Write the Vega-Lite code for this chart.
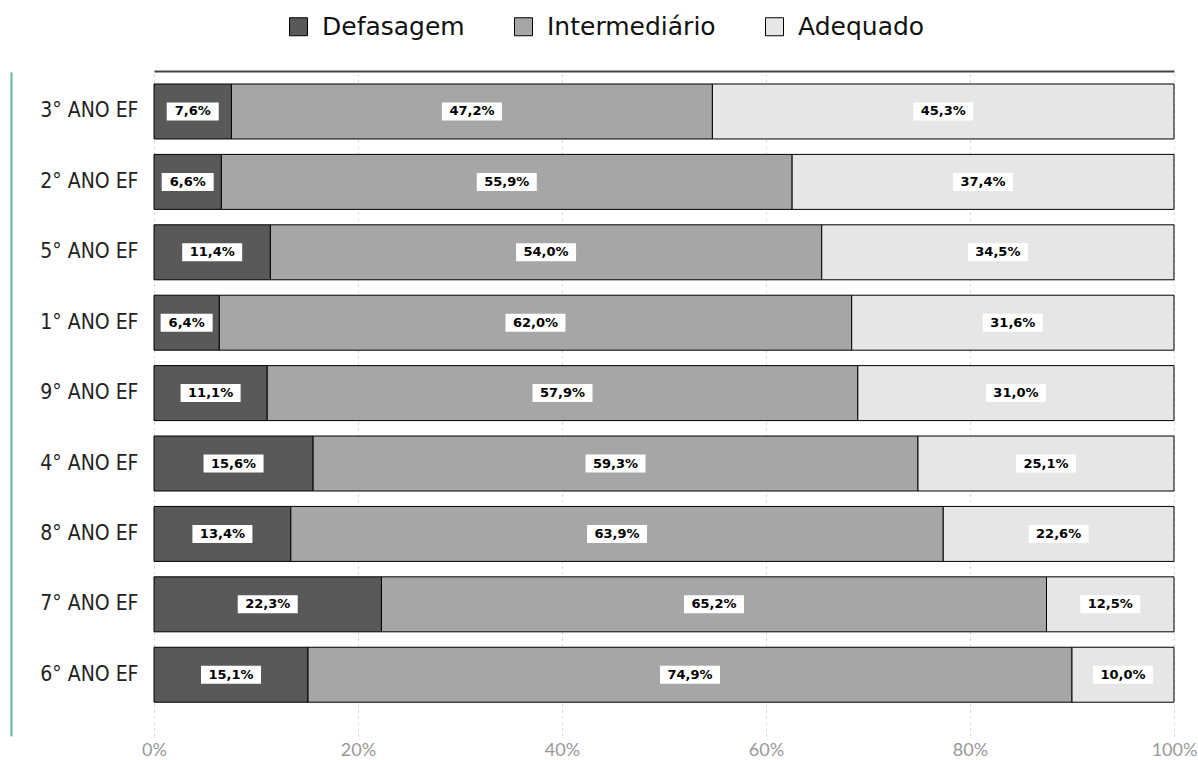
{
  "$schema": "https://vega.github.io/schema/vega-lite/v6.json",
  "autosize": {"type": "none"},
  "padding": {"left": 154, "top": 72, "right": 24, "bottom": 24},
  "width": 1020,
  "height": 664,
  "background": "white",
  "config": {"view": {"stroke": null}},
  "data": {
    "values": [
      {"ano": "3° ANO EF", "nivel": "Defasagem", "value": 7.6},
      {"ano": "3° ANO EF", "nivel": "Intermediário", "value": 47.2},
      {"ano": "3° ANO EF", "nivel": "Adequado", "value": 45.3},
      {"ano": "2° ANO EF", "nivel": "Defasagem", "value": 6.6},
      {"ano": "2° ANO EF", "nivel": "Intermediário", "value": 55.9},
      {"ano": "2° ANO EF", "nivel": "Adequado", "value": 37.4},
      {"ano": "5° ANO EF", "nivel": "Defasagem", "value": 11.4},
      {"ano": "5° ANO EF", "nivel": "Intermediário", "value": 54.0},
      {"ano": "5° ANO EF", "nivel": "Adequado", "value": 34.5},
      {"ano": "1° ANO EF", "nivel": "Defasagem", "value": 6.4},
      {"ano": "1° ANO EF", "nivel": "Intermediário", "value": 62.0},
      {"ano": "1° ANO EF", "nivel": "Adequado", "value": 31.6},
      {"ano": "9° ANO EF", "nivel": "Defasagem", "value": 11.1},
      {"ano": "9° ANO EF", "nivel": "Intermediário", "value": 57.9},
      {"ano": "9° ANO EF", "nivel": "Adequado", "value": 31.0},
      {"ano": "4° ANO EF", "nivel": "Defasagem", "value": 15.6},
      {"ano": "4° ANO EF", "nivel": "Intermediário", "value": 59.3},
      {"ano": "4° ANO EF", "nivel": "Adequado", "value": 25.1},
      {"ano": "8° ANO EF", "nivel": "Defasagem", "value": 13.4},
      {"ano": "8° ANO EF", "nivel": "Intermediário", "value": 63.9},
      {"ano": "8° ANO EF", "nivel": "Adequado", "value": 22.6},
      {"ano": "7° ANO EF", "nivel": "Defasagem", "value": 22.3},
      {"ano": "7° ANO EF", "nivel": "Intermediário", "value": 65.2},
      {"ano": "7° ANO EF", "nivel": "Adequado", "value": 12.5},
      {"ano": "6° ANO EF", "nivel": "Defasagem", "value": 15.1},
      {"ano": "6° ANO EF", "nivel": "Intermediário", "value": 74.9},
      {"ano": "6° ANO EF", "nivel": "Adequado", "value": 10.0}
    ]
  },
  "transform": [
    {"calculate": "indexof(['Defasagem','Intermediário','Adequado'], datum.nivel)", "as": "ord"},
    {"stack": "value", "groupby": ["ano"], "sort": [{"field": "ord", "order": "ascending"}], "as": ["x0", "x1"], "offset": "normalize"},
    {"calculate": "(datum.x0 + datum.x1) / 2", "as": "mid"},
    {"calculate": "replace(format(datum.value, '.1f'), '.', ',') + '%'", "as": "label"}
  ],
  "resolve": {"axis": {"x": "independent", "y": "independent"}},
  "layer": [
    {
      "mark": {"type": "point", "opacity": 0},
      "encoding": {
        "x": {
          "field": "x0",
          "type": "quantitative",
          "scale": {"domain": [0, 1], "nice": false},
          "axis": {"title": null, "orient": "top", "labels": false, "ticks": false, "grid": false, "domain": true, "domainColor": "#444444", "domainWidth": 2, "offset": 1}
        },
        "y": {
          "field": "ano",
          "type": "nominal",
          "sort": ["3° ANO EF", "2° ANO EF", "5° ANO EF", "1° ANO EF", "9° ANO EF", "4° ANO EF", "8° ANO EF", "7° ANO EF", "6° ANO EF"],
          "scale": {"type": "band", "paddingInner": 0.219, "paddingOuter": 0.325, "align": 0.262},
          "axis": {"title": null, "orient": "left", "labels": false, "ticks": false, "grid": false, "domain": true, "domainColor": "#5fb8a0", "domainWidth": 2, "offset": 143}
        }
      }
    },
    {
      "mark": {"type": "bar", "stroke": "#000000", "strokeWidth": 1},
      "encoding": {
        "x": {
          "field": "x0",
          "type": "quantitative",
          "scale": {"domain": [0, 1], "nice": false},
          "axis": {
            "title": null,
            "orient": "bottom",
            "format": ".0%",
            "values": [0, 0.2, 0.4, 0.6, 0.8, 1],
            "grid": true,
            "gridDash": [2, 4],
            "gridColor": "#cccccc",
            "ticks": false,
            "domain": false,
            "labelFlush": false,
            "labelPadding": 5,
            "labelFont": "Lato",
            "labelFontSize": 18,
            "labelColor": "#999999"
          }
        },
        "x2": {"field": "x1"},
        "y": {
          "field": "ano",
          "type": "nominal",
          "sort": ["3° ANO EF", "2° ANO EF", "5° ANO EF", "1° ANO EF", "9° ANO EF", "4° ANO EF", "8° ANO EF", "7° ANO EF", "6° ANO EF"],
          "scale": {"type": "band", "paddingInner": 0.219, "paddingOuter": 0.325, "align": 0.262},
          "axis": {
            "title": null,
            "orient": "left",
            "ticks": false,
            "domain": false,
            "labelPadding": 16,
            "labelFont": "DejaVu Sans Condensed",
            "labelFontSize": 21,
            "labelColor": "#222222"
          }
        },
        "color": {
          "field": "nivel",
          "type": "nominal",
          "scale": {"domain": ["Defasagem", "Intermediário", "Adequado"], "range": ["#595959", "#a6a6a6", "#e6e6e6"]},
          "legend": {
            "title": null,
            "orient": "none",
            "direction": "horizontal",
            "legendX": 132,
            "legendY": -58,
            "symbolType": "square",
            "symbolSize": 324,
            "symbolStrokeColor": "#000000",
            "symbolStrokeWidth": 1,
            "labelFont": "DejaVu Sans",
            "labelFontSize": 25,
            "labelColor": "#111111",
            "labelOffset": 11,
            "labelLimit": 400,
            "columnPadding": 46
          }
        }
      }
    },
    {
      "mark": {"type": "point", "filled": true, "color": "#ffffff", "opacity": 1, "strokeWidth": 0},
      "encoding": {
        "x": {"field": "mid", "type": "quantitative", "axis": null},
        "y": {
          "field": "ano",
          "type": "nominal",
          "sort": ["3° ANO EF", "2° ANO EF", "5° ANO EF", "1° ANO EF", "9° ANO EF", "4° ANO EF", "8° ANO EF", "7° ANO EF", "6° ANO EF"],
          "axis": null
        },
        "shape": {
          "condition": {"test": "datum.value < 10", "value": "M-1,-0.346H1V0.346H-1Z"},
          "value": "M-1,-0.3H1V0.3H-1Z"
        },
        "size": {
          "condition": {"test": "datum.value < 10", "value": 2704},
          "value": 3600
        }
      }
    },
    {
      "mark": {"type": "text", "font": "DejaVu Sans", "fontWeight": "bold", "fontSize": 13, "color": "#000000", "baseline": "middle", "align": "center"},
      "encoding": {
        "x": {"field": "mid", "type": "quantitative", "axis": null},
        "y": {
          "field": "ano",
          "type": "nominal",
          "sort": ["3° ANO EF", "2° ANO EF", "5° ANO EF", "1° ANO EF", "9° ANO EF", "4° ANO EF", "8° ANO EF", "7° ANO EF", "6° ANO EF"],
          "axis": null
        },
        "text": {"field": "label", "type": "nominal"}
      }
    }
  ]
}
